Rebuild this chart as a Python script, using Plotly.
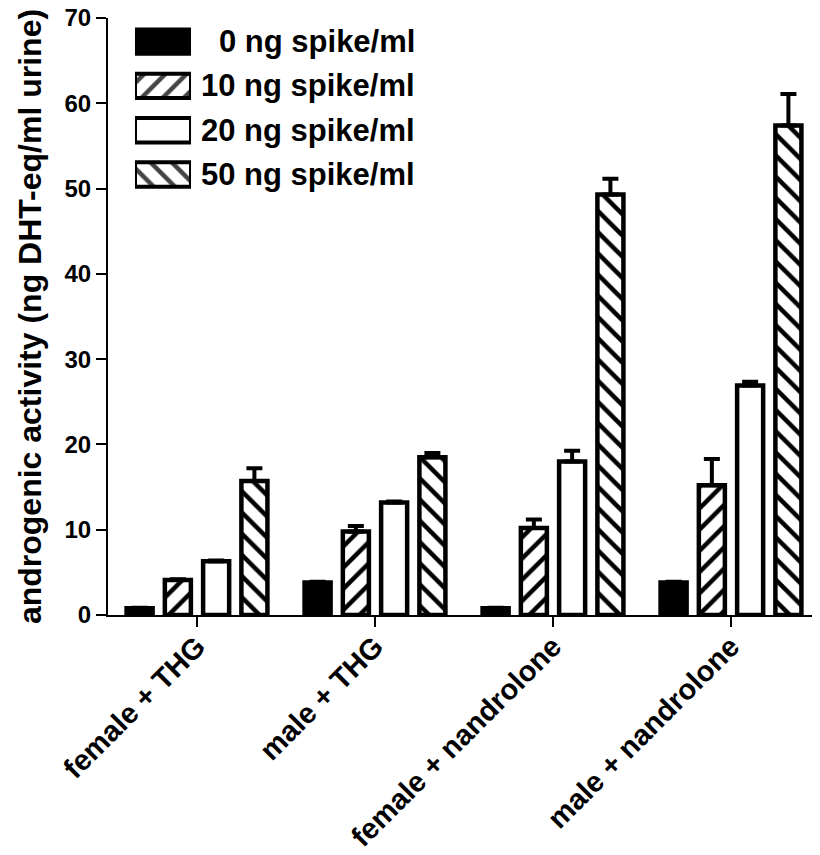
import plotly.graph_objects as go

# ---- data ----
categories = ["female + THG", "male + THG", "female + nandrolone", "male + nandrolone"]
series_names = ["0 ng spike/ml", "10 ng spike/ml", "20 ng spike/ml", "50 ng spike/ml"]

vals_0 = [0.8, 3.8, 0.8, 3.8]
vals_10 = [4.1, 9.8, 10.2, 15.2]
vals_20 = [6.3, 13.2, 18.0, 26.9]
vals_50 = [15.7, 18.5, 49.3, 57.4]

err_0 = [0.05, 0.1, 0.05, 0.1]
err_10 = [0.1, 0.65, 1.0, 3.1]
err_20 = [0.1, 0.1, 1.25, 0.45]
err_50 = [1.5, 0.5, 1.85, 3.7]

y_ticks = [0, 10, 20, 30, 40, 50, 60, 70]

# ---- styles ----
fills = ["black", "white", "white", "white"]
shapes = ["", "/", "", "\\"]
FONT = "Liberation Sans, Arial, sans-serif"

values = [vals_0, vals_10, vals_20, vals_50]
errors = [err_0, err_10, err_20, err_50]

fig = go.Figure()
for name, v, e, fc, sh in zip(series_names, values, errors, fills, shapes):
    fig.add_trace(go.Bar(
        x=categories, y=v, name=name, showlegend=False,
        marker=dict(color=fc, line=dict(color="black", width=4.5),
                    pattern=dict(shape=sh, fgcolor="black", bgcolor=fc,
                                 size=15, solidity=0.3, fgopacity=1)),
        error_y=dict(type="data", array=e, arrayminus=[0] * len(e), symmetric=False,
                     color="black", thickness=4, width=8),
        xaxis="x", yaxis="y",
    ))

# legend drawn as swatch bars on a small hidden subplot
fig.add_trace(go.Bar(
    y=series_names, x=[1] * len(series_names), base=0, orientation="h",
    width=0.55, showlegend=False, hoverinfo="skip",
    marker=dict(color=fills, line=dict(color="black", width=4),
                pattern=dict(shape=shapes, fgcolor="black", bgcolor=fills,
                             size=15, solidity=0.3, fgopacity=1)),
    xaxis="x2", yaxis="y2",
))
for name in series_names:
    fig.add_annotation(text=name, xref="paper", yref="y2", x=0.434, y=name,
                       xanchor="right", yanchor="middle", showarrow=False,
                       font=dict(family=FONT, size=31, color="black", weight="bold"))

fig.update_layout(
    width=812, height=847,
    margin=dict(l=100, r=0, t=10, b=240),
    paper_bgcolor="white", plot_bgcolor="white",
    barmode="group", bargap=0.14, bargroupgap=0.32,
    font=dict(family=FONT, color="black"),
    xaxis=dict(range=[-0.5, 3.5], showline=True, linecolor="black", linewidth=2,
               ticks="outside", ticklen=10, tickwidth=2, tickcolor="black",
               tickangle=-45, showgrid=False, zeroline=False, automargin=False,
               ticklabelstandoff=-9, ticklabeloverflow="allow",
               tickfont=dict(family=FONT, size=29, color="black", weight="bold")),
    yaxis=dict(range=[0, 70], tickvals=y_ticks, showline=True, linecolor="black",
               linewidth=2, ticks="outside", ticklen=10, tickwidth=2, tickcolor="black",
               showgrid=False, zeroline=False, automargin=False, ticklabelstandoff=0,
               ticklabeloverflow="allow",
               tickfont=dict(family=FONT, size=24, color="black", weight="bold"),
               title=dict(text="androgenic activity (ng DHT-eq/ml urine)", standoff=13,
                          font=dict(family=FONT, size=32, color="black", weight="bold"))),
    xaxis2=dict(domain=[0.0379, 0.1166], range=[0, 1], visible=False, anchor="y2"),
    yaxis2=dict(domain=[0.7007, 0.9975], type="category", categoryarray=series_names,
                autorange="reversed", visible=False, anchor="x2"),
)

fig.write_html("out.html")
